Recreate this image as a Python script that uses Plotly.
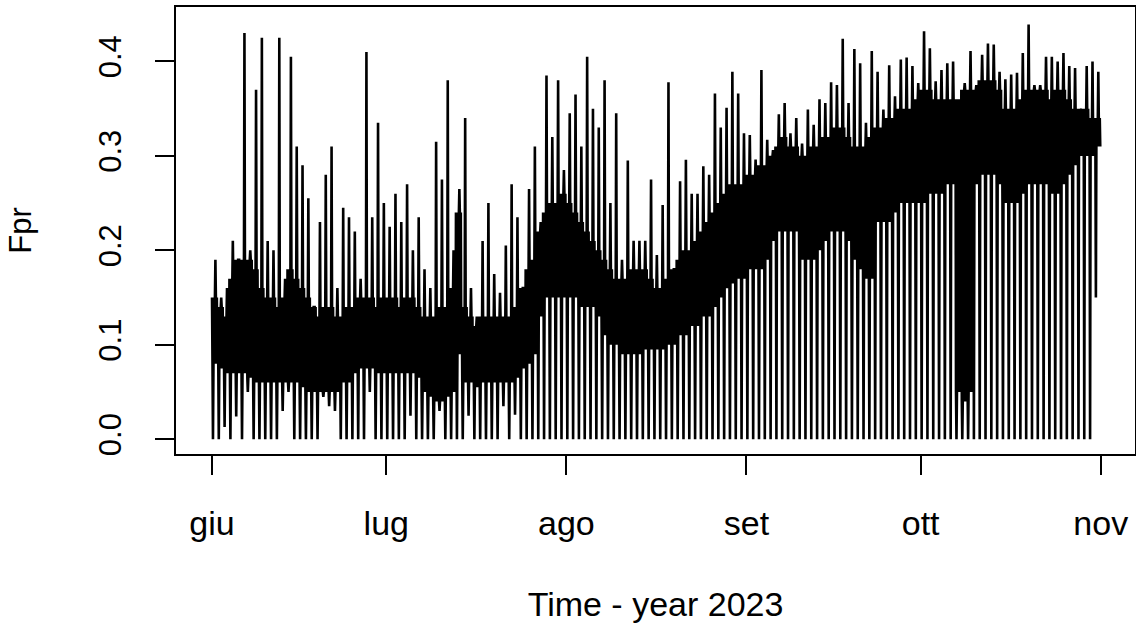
import pandas as pd
import plotly.graph_objects as go

# ---- data (one entry per day, 1 Jun - 31 Oct 2023) ----
start_date = "2023-06-01"
month_ticks = ["2023-06-01", "2023-07-01", "2023-08-01", "2023-09-01", "2023-10-01", "2023-11-01"]
month_labels = ["giu", "lug", "ago", "set", "ott", "nov"]
y_ticks = [0.0, 0.1, 0.2, 0.3, 0.4]
y_tick_labels = ["0.0", "0.1", "0.2", "0.3", "0.4"]

# daily maximum (upward spikes)
daily_peak = [
    0.19, 0.15, 0.16, 0.21, 0.19, 0.43, 0.20, 0.37, 0.425, 0.21,
    0.20, 0.425, 0.17, 0.405, 0.31, 0.29, 0.255, 0.14, 0.23, 0.28,
    0.31, 0.16, 0.245, 0.235, 0.22, 0.17, 0.41, 0.235, 0.335, 0.25,
    0.225, 0.26, 0.23, 0.27, 0.20, 0.235, 0.18, 0.16, 0.315, 0.275,
    0.38, 0.20, 0.265, 0.34, 0.16, 0.13, 0.21, 0.25, 0.175, 0.155,
    0.205, 0.27, 0.235, 0.16, 0.265, 0.31, 0.23, 0.385, 0.32, 0.38,
    0.285, 0.345, 0.365, 0.31, 0.405, 0.35, 0.33, 0.38, 0.25, 0.345,
    0.19, 0.295, 0.21, 0.21, 0.21, 0.275, 0.195, 0.248, 0.378, 0.18,
    0.273, 0.296, 0.26, 0.26, 0.289, 0.28, 0.366, 0.33, 0.351, 0.389,
    0.366, 0.324, 0.322, 0.296, 0.391, 0.317, 0.306, 0.344, 0.356, 0.324,
    0.34, 0.313, 0.349, 0.333, 0.36, 0.356, 0.378, 0.375, 0.424, 0.356,
    0.413, 0.398, 0.335, 0.411, 0.389, 0.349, 0.396, 0.363, 0.402, 0.404,
    0.395, 0.377, 0.432, 0.414, 0.379, 0.391, 0.398, 0.40, 0.345, 0.377,
    0.411, 0.375, 0.407, 0.419, 0.418, 0.389, 0.381, 0.386, 0.388, 0.409,
    0.439, 0.375, 0.375, 0.405, 0.405, 0.40, 0.409, 0.395, 0.393, 0.347,
    0.395, 0.40, 0.389,
]

# upper edge of the dense daily band
daily_high = [
    0.15, 0.14, 0.13, 0.17, 0.19, 0.19, 0.19, 0.18, 0.16, 0.15,
    0.15, 0.14, 0.15, 0.18, 0.17, 0.16, 0.15, 0.14, 0.13, 0.14,
    0.14, 0.13, 0.13, 0.14, 0.14, 0.15, 0.15, 0.15, 0.14, 0.15,
    0.15, 0.15, 0.14, 0.15, 0.15, 0.14, 0.13, 0.13, 0.13, 0.14,
    0.14, 0.16, 0.24, 0.14, 0.13, 0.12, 0.13, 0.13, 0.13, 0.13,
    0.13, 0.13, 0.14, 0.16, 0.18, 0.19, 0.22, 0.24, 0.25, 0.25,
    0.26, 0.25, 0.24, 0.23, 0.22, 0.21, 0.20, 0.19, 0.18, 0.17,
    0.17, 0.17, 0.18, 0.18, 0.18, 0.17, 0.16, 0.16, 0.17, 0.18,
    0.19, 0.20, 0.20, 0.21, 0.22, 0.23, 0.24, 0.25, 0.26, 0.27,
    0.27, 0.27, 0.28, 0.28, 0.29, 0.29, 0.30, 0.31, 0.32, 0.31,
    0.31, 0.30, 0.30, 0.31, 0.31, 0.32, 0.32, 0.33, 0.33, 0.32,
    0.31, 0.31, 0.31, 0.32, 0.33, 0.33, 0.34, 0.34, 0.35, 0.35,
    0.35, 0.36, 0.37, 0.37, 0.36, 0.36, 0.36, 0.36, 0.36, 0.37,
    0.37, 0.37, 0.38, 0.38, 0.38, 0.37, 0.35, 0.35, 0.35, 0.36,
    0.37, 0.37, 0.37, 0.37, 0.36, 0.37, 0.37, 0.36, 0.35, 0.35,
    0.35, 0.34, 0.34,
]

# lower edge of the dense daily band
daily_low = [
    0.08, 0.075, 0.07, 0.07, 0.07, 0.07, 0.065, 0.06, 0.06, 0.06,
    0.06, 0.06, 0.06, 0.06, 0.06, 0.055, 0.05, 0.05, 0.05, 0.05,
    0.05, 0.05, 0.06, 0.06, 0.07, 0.075, 0.075, 0.075, 0.07, 0.07,
    0.07, 0.07, 0.07, 0.07, 0.07, 0.065, 0.05, 0.045, 0.04, 0.04,
    0.045, 0.05, 0.09, 0.06, 0.06, 0.055, 0.06, 0.06, 0.06, 0.06,
    0.06, 0.06, 0.065, 0.075, 0.08, 0.09, 0.13, 0.15, 0.15, 0.15,
    0.15, 0.15, 0.15, 0.14, 0.14, 0.14, 0.13, 0.11, 0.10, 0.10,
    0.09, 0.09, 0.09, 0.09, 0.095, 0.095, 0.095, 0.095, 0.10, 0.10,
    0.11, 0.11, 0.12, 0.12, 0.13, 0.13, 0.14, 0.15, 0.16, 0.165,
    0.17, 0.17, 0.18, 0.18, 0.18, 0.19, 0.21, 0.22, 0.22, 0.22,
    0.22, 0.19, 0.19, 0.19, 0.20, 0.21, 0.22, 0.22, 0.22, 0.21,
    0.19, 0.18, 0.17, 0.17, 0.23, 0.23, 0.23, 0.24, 0.25, 0.25,
    0.25, 0.25, 0.25, 0.26, 0.26, 0.26, 0.27, 0.27, 0.05, 0.04,
    0.05, 0.27, 0.28, 0.28, 0.28, 0.27, 0.25, 0.25, 0.25, 0.26,
    0.27, 0.27, 0.27, 0.27, 0.26, 0.26, 0.27, 0.28, 0.29, 0.30,
    0.30, 0.30, 0.31,
]

# daily minimum (downward drops)
daily_dip = [
    0.0, 0.0, 0.013, 0.0, 0.024, 0.0, 0.05, 0.0, 0.0, 0.0,
    0.0, 0.0, 0.03, 0.05, 0.0, 0.0, 0.0, 0.0, 0.0, 0.045,
    0.035, 0.03, 0.0, 0.0, 0.0, 0.0, 0.0, 0.05, 0.0, 0.0,
    0.0, 0.0, 0.0, 0.0, 0.025, 0.0, 0.0, 0.0, 0.0, 0.03,
    0.0, 0.0, 0.0, 0.0, 0.025, 0.0, 0.0, 0.0, 0.0, 0.0,
    0.035, 0.0, 0.026, 0.0, 0.0, 0.0, 0.0, 0.0, 0.0, 0.0,
    0.0, 0.0, 0.0, 0.0, 0.0, 0.0, 0.0, 0.0, 0.0, 0.0,
    0.0, 0.0, 0.0, 0.0, 0.0, 0.0, 0.0, 0.0, 0.0, 0.0,
    0.0, 0.0, 0.0, 0.0, 0.0, 0.0, 0.0, 0.0, 0.0, 0.0,
    0.0, 0.0, 0.0, 0.0, 0.0, 0.0, 0.0, 0.0, 0.0, 0.0,
    0.0, 0.0, 0.0, 0.0, 0.0, 0.0, 0.0, 0.0, 0.0, 0.0,
    0.0, 0.0, 0.0, 0.0, 0.0, 0.0, 0.0, 0.0, 0.0, 0.0,
    0.0, 0.0, 0.0, 0.0, 0.0, 0.0, 0.0, 0.0, 0.0, 0.0,
    0.0, 0.0, 0.0, 0.0, 0.0, 0.0, 0.0, 0.0, 0.0, 0.0,
    0.0, 0.0, 0.0, 0.0, 0.0, 0.0, 0.0, 0.0, 0.0, 0.0,
    0.0, 0.0, 0.15,
]

# order in which the daily levels are visited, every 2 hours
level_sequence = ["H", "L", "D", "L", "H", "L", "H", "P", "H", "L", "H", "L"]

# ---- build the hourly path ----
t0 = pd.Timestamp(start_date)
xs, ys = [], []
for d in range(len(daily_peak)):
    levels = {"P": daily_peak[d], "H": daily_high[d], "L": daily_low[d], "D": daily_dip[d]}
    for k, lv in enumerate(level_sequence):
        xs.append(t0 + pd.Timedelta(days=d, hours=2 * k))
        ys.append(levels[lv])

fig = go.Figure(
    go.Scatter(x=xs, y=ys, mode="lines",
               line=dict(color="black", width=2.6, simplify=False),
               hoverinfo="skip", showlegend=False)
)

x_lo = t0 - pd.Timedelta(days=6.2)
x_hi = pd.Timestamp("2023-11-01") + pd.Timedelta(days=5.9)

font_family = "Liberation Sans, Arial, sans-serif"
fig.update_layout(
    width=1136, height=628,
    margin=dict(l=176, r=1, t=7, b=174),
    paper_bgcolor="white", plot_bgcolor="white",
    font=dict(family=font_family, color="black"),
    xaxis=dict(
        range=[x_lo, x_hi], tickmode="array", tickvals=month_ticks, ticktext=month_labels,
        showgrid=False, zeroline=False, showline=True, mirror=True,
        linecolor="black", linewidth=1.5,
        ticks="outside", ticklen=19, tickwidth=1.5, tickcolor="black",
        tickfont=dict(size=34), ticklabelstandoff=19,
        title=dict(text="Time - year 2023", font=dict(size=34), standoff=52),
        automargin=False,
    ),
    yaxis=dict(
        range=[-0.0156, 0.4576], tickmode="array", tickvals=y_ticks, ticktext=y_tick_labels,
        showgrid=False, zeroline=False, showline=True, mirror=True,
        linecolor="black", linewidth=1.5,
        ticks="outside", ticklen=19, tickwidth=1.5, tickcolor="black",
        tickfont=dict(size=31), tickangle=-90, ticklabelstandoff=22,
        title=dict(text="Fpr", font=dict(size=31), standoff=52),
        automargin=False,
    ),
)

fig.write_html("out.html")
